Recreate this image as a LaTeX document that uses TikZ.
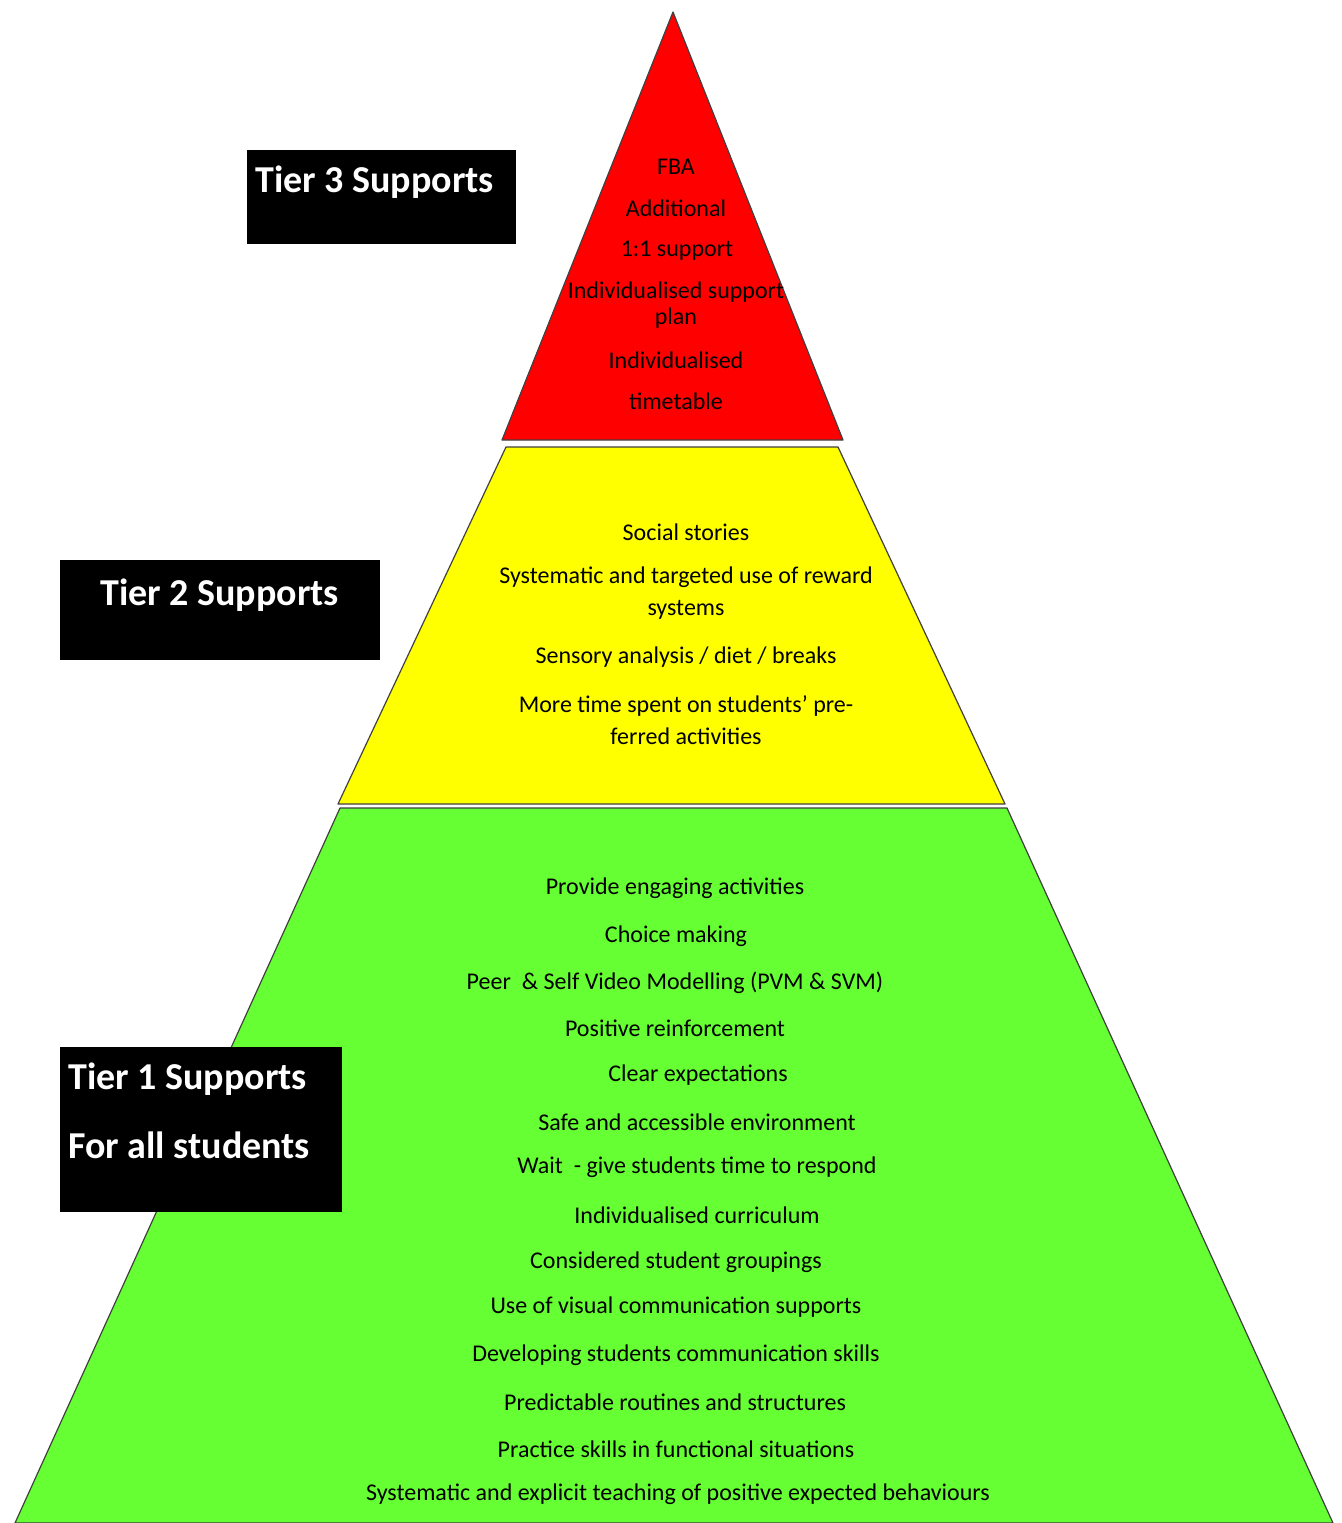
\documentclass[tikz,border=0pt]{standalone}
\usepackage{fontspec}
\setmainfont{Carlito}
\definecolor{tierred}{RGB}{255,0,0}
\definecolor{tieryellow}{RGB}{255,255,0}
\definecolor{tiergreen}{RGB}{102,255,51}
\begin{document}
\begin{tikzpicture}
  [x=1pt,y=-1pt,
   every node/.style={inner sep=0pt},
   item/.style={font=\fontsize{24}{26}\selectfont,align=center},
   item2/.style={font=\fontsize{24}{32}\selectfont,align=center},
   tierbox/.style={fill=black,anchor=north west},
   tierlabel/.style={text=white,anchor=west,font=\fontsize{38}{40}\selectfont\bfseries},
   tier/.style={draw=black!75,line width=1.2pt,line join=round}]
  \useasboundingbox (0,0) rectangle (1341,1523);
  \filldraw[tier,fill=tierred] (673,12) -- (843,440) -- (502,440) -- cycle;
  \filldraw[tier,fill=tieryellow] (506,447) -- (838,447) -- (1005,804) -- (338,804) -- cycle;
  \filldraw[tier,fill=tiergreen] (340,808) -- (1007,808) -- (1333,1523) -- (15,1523) -- cycle;
  \node[tierbox,minimum width=269pt,minimum height=94pt] (box3) at (247,150) {};
  \node[tierbox,minimum width=320pt,minimum height=100pt] (box2) at (60,560) {};
  \node[tierbox,minimum width=282pt,minimum height=165pt] (box1) at (60,1047) {};
  \node[tierlabel] (tier3) at (255,182) {Tier 3 Supports};
  \node[tierlabel] (tier2) at (100,595) {Tier 2 Supports};
  \node[tierlabel] (tier1) at (68,1079) {Tier 1 Supports};
  \node[tierlabel] (all) at (68,1145) {For all students};
  \node[item] (fba) at (676,167) {FBA};
  \node[item] (additional) at (676,208) {Additional};
  \node[item] (oneone) at (677,251) {1:1 support};
  \node[item] (plan) at (676,305) {Individualised support\\plan};
  \node[item] (indiv) at (676,360) {Individualised};
  \node[item] (timetable) at (676,401) {timetable};
  \node[item] (social) at (686,532) {Social stories};
  \node[item2] (reward) at (686,593) {Systematic and targeted use of reward\\systems};
  \node[item] (sensory) at (686,657) {Sensory analysis / diet / breaks};
  \node[item2] (preferred) at (686,720) {More time spent on students' pre-\\ferred activities};
  \node[item] (engaging) at (675,888) {Provide engaging activities};
  \node[item] (choice) at (676,936) {Choice making};
  \node[item] (video) at (675,983) {Peer\ \ \& Self Video Modelling (PVM \& SVM)};
  \node[item] (positive) at (675,1028) {Positive reinforcement};
  \node[item] (clear) at (698,1075) {Clear expectations};
  \node[item] (safe) at (697,1122) {Safe and accessible environment};
  \node[item] (wait) at (697,1167) {Wait\ \ - give students time to respond};
  \node[item] (curriculum) at (697,1215) {Individualised curriculum};
  \node[item] (groupings) at (676,1262) {Considered student groupings};
  \node[item] (visual) at (676,1307) {Use of visual communication supports};
  \node[item] (communication) at (676,1355) {Developing students communication skills};
  \node[item] (routines) at (675,1402) {Predictable routines and structures};
  \node[item] (practice) at (676,1449) {Practice skills in functional situations};
  \node[item] (teaching) at (678,1494) {Systematic and explicit teaching of positive expected behaviours};
\end{tikzpicture}
\end{document}
